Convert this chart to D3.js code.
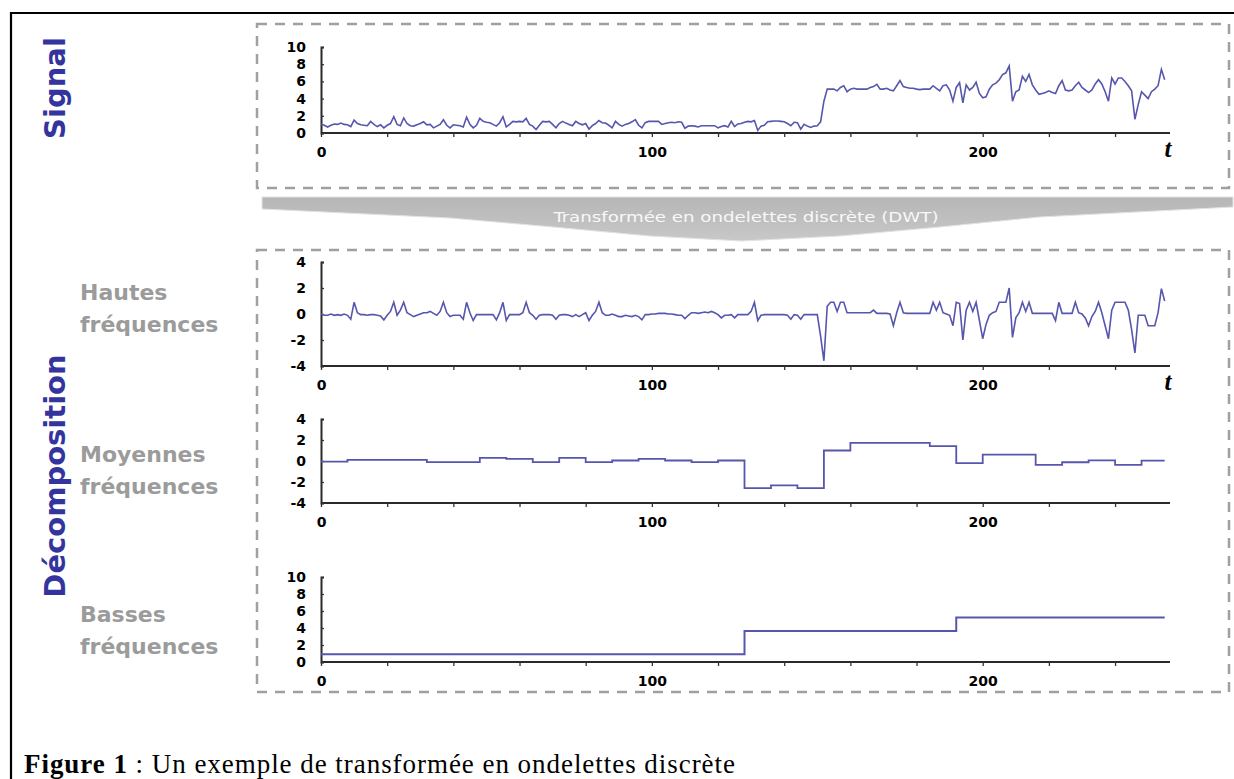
<!DOCTYPE html>
<html>
<head>
<meta charset="utf-8">
<script src="https://cdn.jsdelivr.net/npm/d3@7"></script>
<style>
  body { margin: 0; background: #fff; }
  svg { display: block; }
  .tick text { font-family: "DejaVu Sans", Verdana, sans-serif; font-weight: bold; font-size: 14px; fill: #000; }
</style>
</head>
<body>
<svg id="svg1" width="1234" height="779"></svg>
<script>
// ---- data ----
var tLabels = [0, 100, 200];
var signalTicks = [0, 2, 4, 6, 8, 10];
var detailTicks = [-4, -2, 0, 2, 4];

// original signal, one value per sample t = 0..255
var signal = [
  1.05, 0.9, 0.7, 0.9, 1.05, 1.0, 1.15, 1.0, 0.95, 0.75, 1.5, 1.1, 0.95, 0.9, 0.85, 1.35,
  1.0, 0.75, 0.95, 0.6, 0.9, 1.1, 1.9, 1.0, 0.85, 1.75, 1.1, 0.85, 0.8, 0.95, 1.1, 1.3,
  0.95, 1.0, 0.6, 0.8, 1.0, 1.55, 0.9, 0.6, 0.95, 0.9, 0.85, 0.7, 1.85, 1.0, 0.6, 0.9,
  1.7, 1.35, 1.25, 1.2, 1.0, 0.8, 1.2, 1.9, 0.7, 1.0, 1.35, 1.3, 1.35, 1.3, 1.7, 1.0,
  0.8, 0.4, 0.9, 1.35, 1.3, 1.35, 1.0, 0.6, 1.1, 1.35, 1.15, 1.0, 0.85, 1.35, 1.1, 0.95,
  1.1, 0.45, 0.85, 1.1, 1.45, 1.2, 1.15, 0.9, 0.6, 1.35, 1.0, 0.8, 1.0, 1.1, 1.3, 1.55,
  0.9, 0.6, 1.2, 1.35, 1.35, 1.35, 1.35, 1.0, 1.1, 1.2, 1.25, 1.2, 1.3, 1.25, 0.55, 0.8,
  0.85, 0.8, 0.7, 0.85, 0.85, 0.85, 0.85, 0.85, 0.6, 0.75, 0.85, 0.7, 1.35, 0.75, 1.05, 1.1,
  1.25, 1.35, 1.3, 1.45, 0.3, 0.8, 0.9, 1.3, 1.35, 1.4, 1.4, 1.35, 1.3, 1.1, 0.85, 1.25,
  1.2, 0.45, 1.0, 0.8, 0.65, 0.8, 0.85, 1.3, 3.7, 5.1, 5.1, 5.1, 4.9, 5.3, 5.5, 4.8,
  5.1, 5.2, 5.1, 5.1, 5.1, 5.1, 5.3, 5.4, 5.65, 5.1, 5.1, 5.2, 5.0, 4.9, 5.5, 6.1,
  5.4, 5.3, 5.2, 5.2, 5.1, 5.05, 5.1, 5.1, 5.1, 5.5, 5.2, 4.9, 5.5, 5.6, 5.0, 3.7,
  5.3, 5.85, 3.5, 5.6, 5.0, 5.3, 5.9, 4.6, 4.1, 4.2, 5.1, 5.6, 5.8, 6.2, 6.8, 7.0,
  7.8, 3.7, 4.8, 5.0, 6.6, 6.0, 6.8, 5.6, 5.0, 4.5, 4.6, 4.7, 4.9, 4.7, 4.6, 5.5,
  6.1, 5.0, 4.9, 5.0, 5.5, 5.9, 5.3, 5.0, 4.7, 5.0, 5.7, 6.2, 5.7, 4.8, 3.7, 6.4,
  5.7, 6.4, 6.4, 6.0, 5.5, 4.9, 1.6, 3.3, 4.8, 4.4, 4.0, 4.8, 5.1, 5.5, 7.4, 6.2
];

// high frequency detail, one value per sample
var hautes = [
  0, -0.1, -0.1, 0, -0.1, -0.05, -0.1, 0, -0.1, -0.4, 0.9, 0.1, -0.05, -0.05, -0.1, -0.05,
  -0.05, -0.1, -0.15, -0.45, -0.1, 0.2, 0.9, -0.1, 0.3, 0.9, 0.1, -0.05, -0.2, -0.1, 0, 0.1,
  0.1, 0.2, 0.05, -0.1, 0.2, 0.9, 0.1, -0.2, -0.1, -0.1, -0.1, -0.4, 0.9, 0.1, -0.5, -0.05,
  -0.05, -0.05, -0.05, -0.05, -0.05, -0.45, 0.1, 0.9, -0.5, -0.05, -0.05, -0.05, -0.05, 0.1, 0.9, 0.1,
  -0.1, -0.4, -0.1, -0.05, -0.05, -0.05, -0.1, -0.4, -0.1, -0.05, -0.05, -0.1, -0.2, -0.05, -0.2, -0.05,
  0.1, -0.5, -0.1, 0.2, 0.9, 0.1, -0.1, -0.1, 0, -0.1, -0.2, -0.2, -0.1, -0.15, -0.2, -0.1,
  -0.2, -0.45, -0.05, -0.05, 0, 0, 0.05, 0.05, 0.05, 0, 0, -0.05, -0.1, -0.1, -0.35, -0.1,
  0.1, 0.1, 0.05, 0.1, 0.15, 0.1, 0.2, 0.1, -0.05, -0.3, -0.1, -0.1, -0.05, -0.3, -0.05, -0.05,
  -0.05, -0.05, 0.2, 0.9, -0.5, -0.1, -0.05, -0.05, -0.05, -0.05, -0.05, -0.05, -0.05, -0.1, -0.4, -0.05,
  -0.1, -0.4, -0.05, -0.05, -0.05, -0.05, -0.05, -1.7, -3.6, 0.6, 0.9, 0.9, 0.2, 0.9, 0.9, 0.1,
  0.1, 0.1, 0.1, 0.1, 0.1, 0.1, 0.1, 0.3, 0.05, 0.05, 0.05, 0.05, 0, -0.9, 0.1, 0.9,
  0.1, 0.05, 0.05, 0.05, 0.05, 0.05, 0.05, 0.05, 0.05, 0.9, 0.3, 0.9, 0.1, 0, -0.1, -0.9,
  0.9, 0.8, -2.0, 0.3, 0.9, 0.2, 0.9, -0.5, -1.9, -0.8, -0.1, 0.1, 0.2, 0.9, 0.9, 0.9,
  2.0, -1.8, -0.3, 0.1, 0.9, 0.2, 0.9, 0.05, 0.05, 0.05, 0.05, 0.05, 0.05, 0.05, -0.5, 0.9,
  0.05, 0.05, 0.05, 0.05, 0.9, 0.1, 0, -0.3, -0.9, -0.2, 0.2, 0.9, 0.1, -0.9, -1.9, 0.3,
  0.9, 0.9, 0.9, 0.9, 0.3, -1.2, -3.0, -0.1, -0.1, -0.1, -0.9, -0.9, -0.9, 0.1, 1.95, 1.0
];

// medium frequency: constant blocks (start sample, value)
var moyStarts = [0, 8, 32, 48, 56, 64, 72, 80, 88, 96, 104, 112, 120, 128, 136, 144, 152, 160, 184, 192, 200, 216, 224, 232, 240, 248];
var moyValues = [-0.05, 0.1, -0.1, 0.3, 0.2, -0.1, 0.3, -0.1, 0.05, 0.2, 0.05, -0.1, 0.05, -2.58, -2.33, -2.58, 1.0, 1.73, 1.42, -0.2, 0.6, -0.36, -0.12, 0.06, -0.36, 0.03];

// low frequency: constant blocks
var basStarts = [0, 128, 192];
var basValues = [0.9, 3.65, 5.25];

var nSamples = 256;

// ---- drawing ----
var svg = d3.select("#svg1");
var lineColor = "#5656ad";

// outer frame (open to the right and bottom)
svg.append("path")
    .attr("d", "M11,790V13H1245")
    .attr("fill", "none")
    .attr("stroke", "#000")
    .attr("stroke-width", 2.2);

// dashed boxes
function dashedBox(x0, y0, x1, y1) {
  svg.append("rect")
      .attr("x", x0).attr("y", y0)
      .attr("width", x1 - x0).attr("height", y1 - y0)
      .attr("fill", "none")
      .attr("stroke", "#a0a0a0")
      .attr("stroke-width", 2.5)
      .attr("stroke-dasharray", "10,8");
}
dashedBox(257, 24, 1229, 188);
dashedBox(257, 250, 1229, 692);

// DWT arrow band
var grad = svg.append("defs").append("linearGradient")
    .attr("id", "band").attr("x1", 0).attr("y1", 0).attr("x2", 0).attr("y2", 1);
grad.append("stop").attr("offset", "0%").attr("stop-color", "#b6b6b6");
grad.append("stop").attr("offset", "100%").attr("stop-color", "#c8c8c8");

svg.append("path")
    .attr("d", "M262,197L1233,197L1233,207L1040,217L940,227L840,236L742,241L650,236L553,227L450,218L262,209Z")
    .attr("fill", "url(#band)")
    .attr("stroke", "#e2e2e2")
    .attr("stroke-width", 1);

svg.append("text")
    .attr("x", 746)
    .attr("y", 222)
    .attr("text-anchor", "middle")
    .attr("font-family", "'DejaVu Sans Condensed', 'DejaVu Sans', sans-serif")
    .attr("font-size", 14)
    .attr("textLength", 385)
    .attr("lengthAdjust", "spacingAndGlyphs")
    .attr("fill", "#f8f8f8")
    .text("Transformée en ondelettes discrète (DWT)");

// shared x scale
var x = d3.scaleLinear().domain([0, nSamples]).range([321, 1168]);
var xTicks = d3.range(0, nSamples, 20);

function drawAxes(y, yTicks, axisY, showT) {
  var g = svg.append("g");

  // x axis
  var gx = g.append("g")
      .attr("transform", "translate(0," + axisY + ")")
      .call(d3.axisBottom(x).tickValues(xTicks).tickSize(4).tickPadding(10)
        .tickFormat(function(d) { return tLabels.indexOf(d) >= 0 ? d : ""; }));
  gx.select(".domain").attr("d", "M" + x(0) + ",0H1170").attr("stroke", "#2a2a2a").attr("stroke-width", 2);
  gx.selectAll(".tick line").attr("stroke", "#333").attr("stroke-width", 1.3);

  // y axis
  var gy = g.append("g")
      .attr("transform", "translate(" + x(0) + ",0)")
      .call(d3.axisLeft(y).tickValues(yTicks).tickSize(-3).tickPadding(15)
        .tickFormat(function(d) { return String(d); }));
  gy.select(".domain").attr("stroke", "#2a2a2a").attr("stroke-width", 2);
  gy.selectAll(".tick line").attr("stroke", "#333").attr("stroke-width", 1.3);

  if (showT) {
    g.append("text")
        .attr("x", 1168)
        .attr("y", axisY + 24)
        .attr("text-anchor", "middle")
        .attr("font-family", "'Liberation Serif', serif")
        .attr("font-style", "italic")
        .attr("font-weight", "bold")
        .attr("font-size", 25)
        .text("t");
  }
}

function blocksToPoints(starts, values) {
  var pts = [];
  starts.forEach(function(s, i) { pts.push([s, values[i]]); });
  pts.push([nSamples - 1, values[values.length - 1]]);
  return pts;
}

// panel 1: signal
var ySig = d3.scaleLinear().domain([0, 10]).range([133, 47]);
drawAxes(ySig, signalTicks, 133, true);
svg.append("path")
    .datum(signal)
    .attr("fill", "none")
    .attr("stroke", lineColor)
    .attr("stroke-width", 1.6)
    .attr("d", d3.line().x(function(d, i) { return x(i); }).y(function(d) { return ySig(d); }));

// panel 2: high frequencies
var yHaut = d3.scaleLinear().domain([-4, 4]).range([366, 262]);
drawAxes(yHaut, detailTicks, 366, true);
svg.append("path")
    .datum(hautes)
    .attr("fill", "none")
    .attr("stroke", lineColor)
    .attr("stroke-width", 1.6)
    .attr("d", d3.line().x(function(d, i) { return x(i); }).y(function(d) { return yHaut(d); }));

// panel 3: medium frequencies
var yMoy = d3.scaleLinear().domain([-4, 4]).range([503, 419]);
drawAxes(yMoy, detailTicks, 503, false);
svg.append("path")
    .datum(blocksToPoints(moyStarts, moyValues))
    .attr("fill", "none")
    .attr("stroke", lineColor)
    .attr("stroke-width", 1.8)
    .attr("d", d3.line().curve(d3.curveStepAfter)
      .x(function(d) { return x(d[0]); }).y(function(d) { return yMoy(d[1]); }));

// panel 4: low frequencies
var yBas = d3.scaleLinear().domain([0, 10]).range([662, 577]);
drawAxes(yBas, signalTicks, 662, false);
svg.append("path")
    .datum(blocksToPoints(basStarts, basValues))
    .attr("fill", "none")
    .attr("stroke", lineColor)
    .attr("stroke-width", 2)
    .attr("d", d3.line().curve(d3.curveStepAfter)
      .x(function(d) { return x(d[0]); }).y(function(d) { return yBas(d[1]); }));

// vertical section titles
function verticalTitle(text, cy) {
  svg.append("text")
      .attr("transform", "translate(65," + cy + ") rotate(-90)")
      .attr("text-anchor", "middle")
      .attr("font-family", "'DejaVu Sans', Verdana, sans-serif")
      .attr("font-weight", "bold")
      .attr("font-size", 29)
      .attr("fill", "#34349e")
      .text(text);
}
verticalTitle("Signal", 88);
verticalTitle("Décomposition", 476);

// band labels
function bandLabel(line1, baseY) {
  var t = svg.append("text")
      .attr("font-family", "'DejaVu Sans', Verdana, sans-serif")
      .attr("font-weight", "bold")
      .attr("font-size", 22)
      .attr("fill", "#9b9b9b");
  t.append("tspan").attr("x", 80).attr("y", baseY).text(line1);
  t.append("tspan").attr("x", 80).attr("y", baseY + 32).text("fréquences");
}
bandLabel("Hautes", 300);
bandLabel("Moyennes", 462);
bandLabel("Basses", 622);

// caption
var cap = svg.append("text")
    .attr("x", 24)
    .attr("y", 773)
    .attr("font-family", "'Liberation Serif', 'Times New Roman', serif")
    .attr("font-size", 27)
    .attr("textLength", 711)
    .attr("lengthAdjust", "spacing")
    .attr("fill", "#000");
cap.append("tspan").attr("font-weight", "bold").text("Figure 1");
cap.append("tspan").text(" : Un exemple de transformée en ondelettes discrète");
</script>
</body>
</html>
